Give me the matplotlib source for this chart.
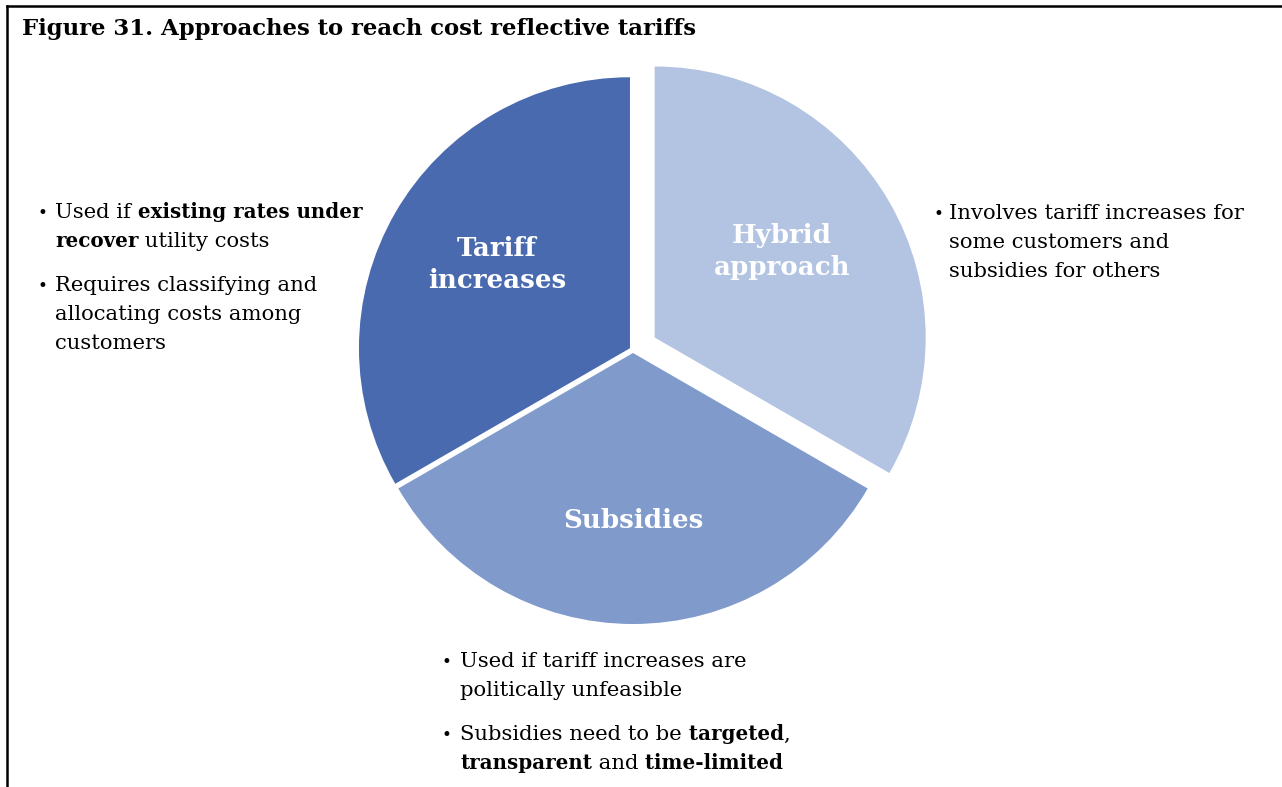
import matplotlib
matplotlib.use("Agg")
import matplotlib.pyplot as plt
from matplotlib.lines import Line2D

W, H = 1282, 787
SERIF = "DejaVu Serif"

title = "Figure 31. Approaches to reach cost reflective tariffs"

# three approaches, shown as equal shares of the pie
categories = ["Tariff\nincreases", "Subsidies", "Hybrid\napproach"]
values = [1, 1, 1]
colors = ["#4a6ab0", "#7f9acb", "#b3c3e2"]
explode = [3.5, 3, 25]  # data units (pixels)

# bullet notes, each line is a list of (text, bold) runs
notes_tariff = [
    [[("Used if", False), (" existing rates under", True)],
     [("recover", True), (" utility costs", False)]],
    [[("Requires classifying and", False)],
     [("allocating costs among", False)],
     [("customers", False)]],
]
notes_hybrid = [
    [[("Involves tariff increases for", False)],
     [("some customers and", False)],
     [("subsidies for others", False)]],
]
notes_subsidies = [
    [[("Used if tariff increases are", False)],
     [("politically unfeasible", False)]],
    [[("Subsidies need to be", False), (" targeted", True), (",", False)],
     [("transparent", True), (" and", False), (" time-limited", True)]],
]

fig = plt.figure(figsize=(W / 100, H / 100), dpi=100)
ax = fig.add_axes([0, 0, 1, 1])

wedges, texts = ax.pie(values, labels=categories, colors=colors, explode=explode,
                       startangle=90, radius=271, center=(633, H - 350),
                       labeldistance=0.6,
                       textprops=dict(color="white", fontsize=18.8, fontweight="bold",
                                      family=SERIF, ha="center", va="center",
                                      linespacing=1.35))
# nudge labels to where they sit in the original
label_pos = [(497, 265), (633, 521), (782, 251)]
for t, (px, py) in zip(texts, label_pos):
    t.set_position((px, H - py))
    t.set_horizontalalignment("center")
    t.set_verticalalignment("center")

ax.set_xlim(0, W)
ax.set_ylim(0, H)
ax.set_aspect("equal")
ax.axis("off")

# frame lines (top and left only)
fig.add_artist(Line2D([6.5 / W, 6.5 / W], [0, 1 - 5.5 / H], transform=fig.transFigure,
                      color="black", lw=1.8))
fig.add_artist(Line2D([6.5 / W, 1], [1 - 5.5 / H, 1 - 5.5 / H], transform=fig.transFigure,
                      color="black", lw=1.8))

fig.text(22 / W, 1 - 35 / H, title, fontsize=16.4, fontweight="bold", family=SERIF,
         va="baseline", ha="left")

renderer = fig.canvas.get_renderer()
SIZE_REG, SIZE_BOLD = 15.2, 14.3


def rich_line(x, y, runs):
    for txt, bold in runs:
        t = fig.text(x / W, 1 - y / H, txt, fontsize=SIZE_BOLD if bold else SIZE_REG,
                     fontweight="bold" if bold else "normal", family=SERIF,
                     va="baseline", ha="left")
        x += t.get_window_extent(renderer=renderer).width


def bullets(x_bullet, x_text, y0, paras, line_gap=29, para_gap=44):
    y = y0
    for para in paras:
        fig.text(x_bullet / W, 1 - y / H, "\u2022", fontsize=12, family=SERIF,
                 va="baseline", ha="left")
        for i, runs in enumerate(para):
            rich_line(x_text, y, runs)
            if i < len(para) - 1:
                y += line_gap
        y += para_gap


bullets(38, 55, 218, notes_tariff)
bullets(933, 949, 219, notes_hybrid)
bullets(442, 460, 667, notes_subsidies)

fig.savefig("out.png", dpi=100)
